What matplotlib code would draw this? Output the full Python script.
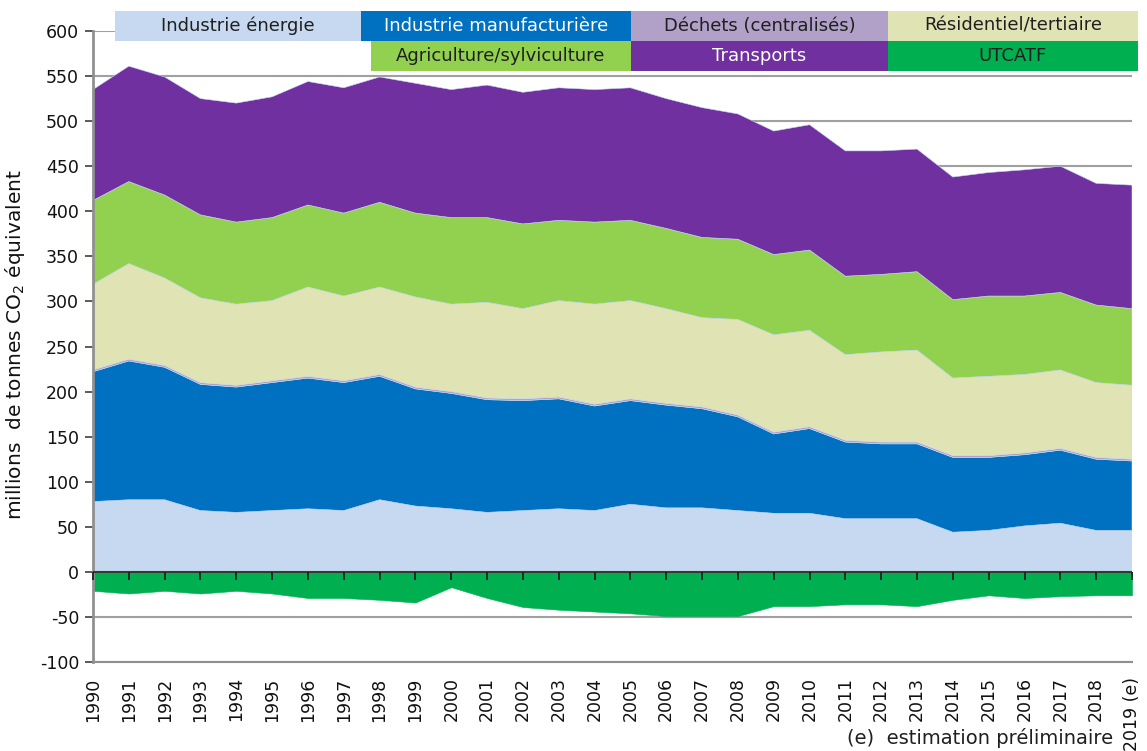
import matplotlib
matplotlib.use("Agg")
import matplotlib.pyplot as plt
from matplotlib.patches import Rectangle

plt.rcParams["axes.unicode_minus"] = False

years = list(range(1990, 2020))
year_labels = [str(y) for y in years[:-1]] + ["2019 (e)"]

energie = [78, 80, 80, 68, 66, 68, 70, 68, 80, 73, 70, 66, 68, 70, 68, 75, 71, 71, 68, 65,
           65, 59, 59, 59, 44, 46, 51, 54, 46, 46]
manufacturiere = [144, 154, 147, 140, 139, 142, 145, 142, 137, 130, 128, 125, 122, 122, 116, 115,
                  114, 110, 104, 88, 94, 85, 83, 83, 83, 81, 79, 81, 79, 77]
dechets = [2] * 30
residentiel = [95, 106, 97, 94, 90, 89, 99, 94, 97, 100, 97, 106, 100, 107, 111, 109, 105, 99,
               106, 108, 107, 95, 100, 102, 86, 88, 87, 87, 83, 82]
agriculture = [93, 91, 92, 92, 91, 92, 91, 92, 94, 93, 96, 94, 94, 89, 91, 89, 89, 89, 89, 89,
               89, 87, 86, 87, 87, 89, 87, 86, 86, 85]
transports = [123, 128, 131, 129, 132, 134, 137, 139, 139, 144, 142, 147, 146, 147, 147, 147,
              144, 144, 139, 137, 139, 139, 137, 136, 136, 137, 140, 140, 135, 137]
utcatf = [-21, -24, -21, -24, -21, -24, -29, -29, -31, -34, -17, -29, -39, -42, -44, -46, -49,
          -49, -49, -38, -38, -36, -36, -38, -31, -26, -29, -27, -26, -26]

names = ["Industrie énergie", "Industrie manufacturière", "Déchets (centralisés)",
         "Résidentiel/tertiaire", "Agriculture/sylviculture", "Transports", "UTCATF"]
colors = ["#C6D9F0", "#0070C0", "#B1A0C7", "#E0E3B4", "#92D050", "#7030A0", "#00B050"]

W, H = 1147, 751
fig = plt.figure(figsize=(W / 100, H / 100), dpi=100)
ax = fig.add_axes([93 / W, 1 - 662 / H, (1132 - 93) / W, (662 - 31) / H])

ax.stackplot(years, energie, manufacturiere, dechets, residentiel, agriculture, transports,
             colors=colors[:6], linewidth=0.4, edgecolors=colors[:6], zorder=2)
ax.fill_between(years, 0, utcatf, color=colors[6], linewidth=0.4, edgecolor=colors[6], zorder=2)

ax.set_xlim(1990, 2019)
ax.set_ylim(-100, 600)
ax.set_yticks(range(-100, 601, 50))
ax.yaxis.grid(True, color="#A0A0A0", linewidth=1.5, zorder=0)
ax.set_axisbelow(True)
ax.axhline(0, color="#2F3F2F", linewidth=1.5, zorder=3)
# small tick marks along the zero line, one per year
ax.plot(years, [0] * len(years), linestyle="none", marker=3, markersize=6,
        markeredgewidth=1.3, color="#202020", zorder=4, clip_on=False)

for s in ["top", "right"]:
    ax.spines[s].set_visible(False)
ax.spines["left"].set_color("#909090")
ax.spines["left"].set_linewidth(2)
ax.spines["bottom"].set_color("#909090")
ax.spines["bottom"].set_linewidth(1.5)

ax.set_xticks(years)
ax.set_xticklabels(year_labels, rotation=90, fontsize=12.5)
ax.tick_params(axis="x", length=0, pad=11)
ax.tick_params(axis="y", labelsize=12.5, length=6, color="#404040", width=1.2, pad=4)
for lab in ax.get_xticklabels() + ax.get_yticklabels():
    lab.set_color("#111111")

ax.set_ylabel("millions  de tonnes CO$_2$ équivalent", fontsize=14.5, color="#111111")
ax.yaxis.set_label_coords((27 - 93) / (1132 - 93), (662 - 345) / (662 - 31))

# legend boxes (figure pixel layout)
boxes = [
    (0, 115, 361, 11, 41, "#1F1F1F"),
    (1, 361, 631, 11, 41, "white"),
    (2, 631, 888, 11, 41, "#1F1F1F"),
    (3, 888, 1138, 11, 41, "#1F1F1F"),
    (4, 371, 631, 41, 71, "#1F1F1F"),
    (5, 631, 888, 41, 71, "white"),
    (6, 888, 1138, 41, 71, "#1F1F1F"),
]
for idx, x0, x1, y0, y1, tc in boxes:
    fig.patches.append(Rectangle((x0 / W, 1 - y1 / H), (x1 - x0) / W, (y1 - y0) / H,
                                 transform=fig.transFigure, facecolor=colors[idx],
                                 edgecolor="none", zorder=5))
    fig.text((x0 + x1) / 2 / W, 1 - (y0 + y1) / 2 / H, names[idx], ha="center", va="center",
             fontsize=13, color=tc, zorder=6)

fig.text(1113 / W, 1 - 738 / H, "(e)  estimation préliminaire", ha="right", va="center",
         fontsize=14, color="#1F1F1F")

fig.savefig("out.png", dpi=100)
